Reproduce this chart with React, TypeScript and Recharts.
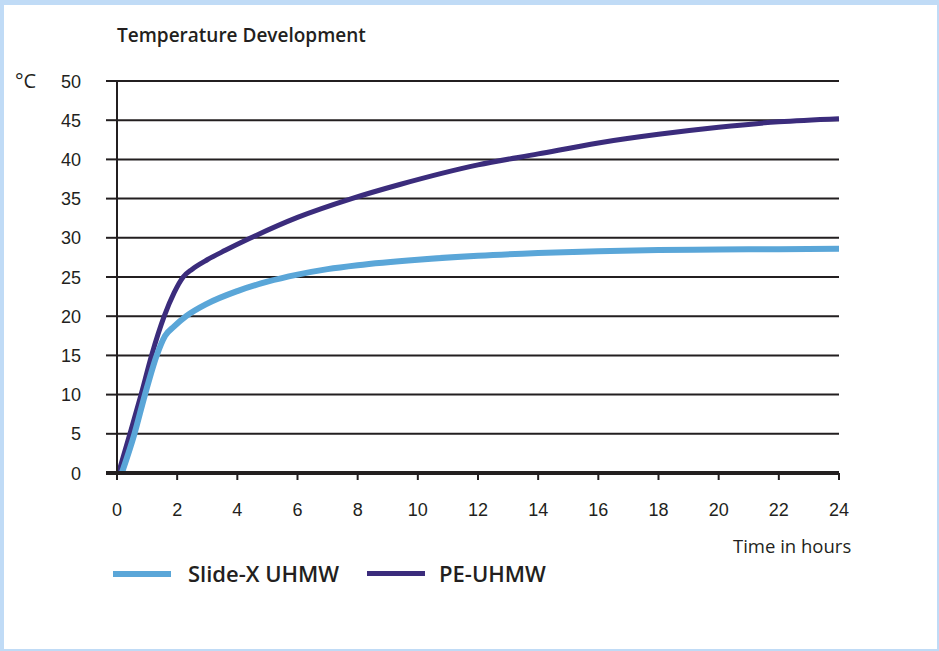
import { LineChart, Line, XAxis, YAxis, CartesianGrid, Legend } from "recharts";

// hours / °C
const SLIDE_X_HOURS = [0.16, 0.58, 0.93, 1.32, 1.6, 1.9, 2.3, 3, 4, 5, 6, 7, 8, 10, 12, 14, 16, 18, 20, 22, 24];
const SLIDE_X_TEMP = [0, 5, 10, 15, 17.5, 18.7, 20, 21.6, 23.2, 24.4, 25.3, 26, 26.5, 27.2, 27.7, 28.05, 28.3, 28.45, 28.5, 28.55, 28.6];

const PE_HOURS = [0.05, 0.43, 0.8, 1.15, 1.57, 1.9, 2.2, 2.5, 3, 3.6, 4.4, 6, 7.8, 9.4, 12, 14, 16, 18, 20, 22, 24];
const PE_TEMP = [0, 5, 10, 15, 20, 23, 25, 26, 27.2, 28.4, 29.9, 32.6, 35, 36.8, 39.3, 40.7, 42.1, 43.2, 44.1, 44.8, 45.2];

const X_TICKS = [0, 2, 4, 6, 8, 10, 12, 14, 16, 18, 20, 22, 24];
const Y_TICKS = [0, 5, 10, 15, 20, 25, 30, 35, 40, 45, 50];

const zip = (xs: number[], ys: number[]) => xs.map((h, i) => ({ hours: h, temp: ys[i] }));

const SERIES = [
  { name: "Slide-X UHMW", color: "#5aa6d8", width: 6, data: zip(SLIDE_X_HOURS, SLIDE_X_TEMP) },
  { name: "PE-UHMW", color: "#3b2c7c", width: 5, data: zip(PE_HOURS, PE_TEMP) },
];

const INK = "#231f20";
const SANS = "'Open Sans', sans-serif";
const ARIAL = "'Liberation Sans', Arial, sans-serif";

const YTick = (props: any) => {
  const { x, y, payload } = props;
  return (
    <g>
      <line x1={x + 25} x2={x + 36} y1={y} y2={y} stroke={INK} strokeWidth={payload.value === 0 ? 4 : 2} />
      <text x={x} y={y} dy={6.5} textAnchor="end" fill={INK} fontSize={18} fontFamily={ARIAL}>
        {payload.value}
      </text>
    </g>
  );
};

const LegendContent = () => (
  <div style={{ position: "relative", width: 500, height: 30, fontFamily: SANS }}>
    {SERIES.map((s, i) => {
      const left = i === 0 ? 3 : 257;
      return (
        <div key={s.name}>
          <div
            style={{ position: "absolute", left, top: 11, width: 58, height: s.width, background: s.color }}
          />
          <div
            style={{
              position: "absolute",
              left: left + (i === 0 ? 75 : 72),
              top: 2,
              fontSize: 22,
              fontWeight: 600,
              lineHeight: 1,
              color: INK,
              whiteSpace: "nowrap",
            }}
          >
            {s.name}
          </div>
        </div>
      );
    })}
  </div>
);

export default function App() {
  // draw PE first so the light blue sits on top near the origin
  const drawOrder = [SERIES[1], SERIES[0]];
  return (
    <div
      style={{
        position: "absolute",
        left: 0,
        top: 0,
        width: 939,
        height: 651,
        boxSizing: "border-box",
        borderStyle: "solid",
        borderColor: "#c0dbf6",
        borderWidth: "5px 2px 2px 4px",
        background: "#fff",
        overflow: "hidden",
      }}
    >
      <div style={{ position: "absolute", left: -4, top: -5 }}>
        <LineChart width={939} height={651} margin={{ top: 81, right: 100, bottom: 148, left: 57 }}>
          <CartesianGrid vertical={false} stroke={INK} strokeWidth={2} />
          <XAxis
            dataKey="hours"
            type="number"
            domain={[0, 24]}
            ticks={X_TICKS}
            interval={0}
            height={30}
            axisLine={{ stroke: INK, strokeWidth: 4 }}
            tickLine={{ stroke: INK, strokeWidth: 2 }}
            tickSize={7}
            tickMargin={23}
            tick={{ fill: INK, fontSize: 18, fontFamily: ARIAL }}
          />
          <YAxis
            dataKey="temp"
            type="number"
            domain={[0, 50]}
            ticks={Y_TICKS}
            interval={0}
            width={60}
            axisLine={{ stroke: INK, strokeWidth: 2 }}
            tickLine={false}
            tickSize={11}
            tickMargin={25}
            tick={<YTick />}
          />
          <Legend
            layout="horizontal"
            verticalAlign="middle"
            align="center"
            wrapperStyle={{ top: 560, left: 110, width: 500 }}
            content={<LegendContent />}
          />
          {drawOrder.map((s) => (
            <Line
              key={s.name}
              data={s.data}
              dataKey="temp"
              name={s.name}
              type="monotone"
              stroke={s.color}
              strokeWidth={s.width}
              dot={false}
              activeDot={false}
              isAnimationActive={false}
            />
          ))}
        </LineChart>
      </div>
      <div
        style={{
          position: "absolute",
          left: 113,
          top: 21,
          fontFamily: SANS,
          fontSize: 19,
          fontWeight: 600,
          lineHeight: 1,
          color: INK,
          whiteSpace: "nowrap",
        }}
      >
        Temperature Development
      </div>
      <div
        style={{
          position: "absolute",
          left: 11,
          top: 66,
          fontFamily: SANS,
          fontSize: 20,
          lineHeight: 1,
          color: INK,
          whiteSpace: "nowrap",
        }}
      >
        °C
      </div>
      <div
        style={{
          position: "absolute",
          left: 729,
          top: 532,
          fontFamily: SANS,
          fontSize: 18.5,
          lineHeight: 1,
          color: INK,
          whiteSpace: "nowrap",
        }}
      >
        Time in hours
      </div>
    </div>
  );
}
